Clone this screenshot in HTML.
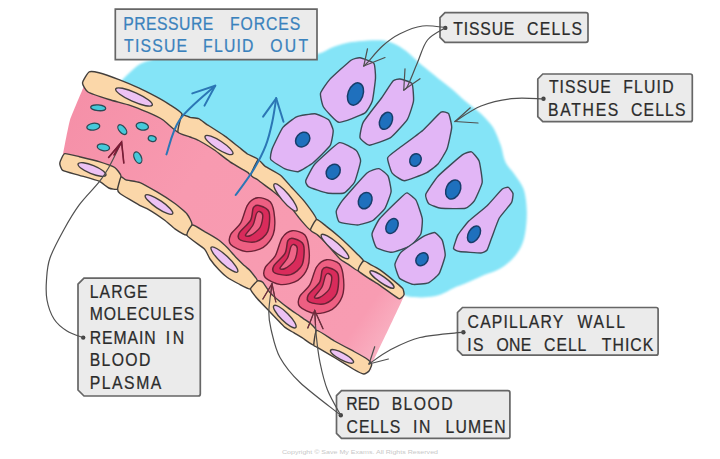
<!DOCTYPE html>
<html><head><meta charset="utf-8"><style>
html,body{margin:0;padding:0;background:#fff;}
svg{display:block;font-family:"Liberation Sans",sans-serif;}
</style></head><body>
<svg width="720" height="459" viewBox="0 0 720 459">
<rect width="720" height="459" fill="#fff"/>
<defs><filter id="sb" x="-5%" y="-5%" width="110%" height="110%"><feGaussianBlur stdDeviation="0.9"/></filter></defs>
<path d="M118.0,86.0 C117.0,84.3 120.2,82.3 122.2,80.0 C124.2,77.7 127.2,74.8 130.0,72.2 C132.8,69.6 135.9,66.4 139.2,64.4 C142.5,62.5 145.4,61.7 149.7,60.5 C154.0,59.3 153.3,57.8 165.0,57.0 C176.7,56.2 197.5,56.2 220.0,56.0 C242.5,55.8 283.6,56.4 300.0,56.0 C316.4,55.6 312.9,55.3 318.3,53.8 C323.8,52.3 328.1,49.0 332.7,47.2 C337.3,45.5 341.4,44.3 345.8,43.3 C350.2,42.3 353.1,41.8 358.8,41.3 C364.5,40.8 374.3,40.0 380.0,40.3 C385.7,40.6 388.6,41.5 393.0,43.3 C397.4,45.1 401.7,47.8 406.1,51.1 C410.5,54.4 414.8,59.2 419.2,62.9 C423.6,66.6 428.8,70.6 432.3,73.4 C435.8,76.2 436.6,77.0 440.0,79.8 C443.4,82.6 448.6,86.3 453.0,90.0 C457.4,93.7 461.7,98.1 466.1,101.8 C470.5,105.5 475.7,109.3 479.2,112.3 C482.7,115.3 484.5,117.2 487.0,120.0 C489.5,122.8 491.7,124.7 494.0,129.0 C496.3,133.3 499.1,140.5 501.0,146.0 C502.9,151.5 503.2,157.5 505.5,162.2 C507.8,166.9 511.6,169.8 514.6,174.4 C517.6,179.0 521.8,183.5 523.8,189.6 C525.8,195.7 526.5,203.9 526.8,211.0 C527.0,218.1 526.3,226.2 525.3,232.3 C524.3,238.4 523.0,243.0 520.7,247.6 C518.4,252.2 515.2,256.2 511.6,259.8 C508.1,263.4 504.0,266.4 499.4,268.9 C494.8,271.4 489.5,272.7 484.1,275.0 C478.7,277.3 471.9,280.6 466.9,282.7 C461.8,284.8 458.1,285.9 453.8,287.9 C449.5,289.8 445.2,292.9 440.8,294.4 C436.4,295.9 432.1,296.7 427.7,297.1 C423.3,297.6 418.8,297.6 414.6,297.1 C410.5,296.7 406.6,296.6 402.8,294.4 C399.0,292.2 398.8,289.1 392.0,284.0 C385.2,278.9 372.0,271.7 362.0,264.0 C352.0,256.3 342.0,248.0 332.0,238.0 C322.0,228.0 312.0,214.7 302.0,204.0 C292.0,193.3 283.7,183.5 272.0,174.0 C260.3,164.5 245.3,155.0 232.0,147.0 C218.7,139.0 205.3,133.7 192.0,126.0 C178.7,118.3 162.7,107.0 152.0,101.0 C141.3,95.0 133.7,92.5 128.0,90.0 C122.3,87.5 119.0,87.7 118.0,86.0Z" fill="#84e4f7" filter="url(#sb)"/>
<defs><linearGradient id="lg" x1="70" y1="110" x2="398" y2="335" gradientUnits="userSpaceOnUse"><stop offset="0" stop-color="#f590a8"/><stop offset="0.35" stop-color="#f89ab0"/><stop offset="0.9" stop-color="#f89cb2"/><stop offset="1" stop-color="#f9b4c4"/></linearGradient></defs>
<path d="M84.0,84.0 C85.7,84.5 105.9,92.5 109.0,93.5 C112.1,94.5 127.4,98.5 130.0,99.3 C132.6,100.1 145.2,105.2 147.4,106.2 C149.6,107.2 161.1,112.7 163.1,114.0 C165.1,115.3 176.2,124.9 178.0,126.0 C179.8,127.1 188.6,130.4 190.0,131.0 C191.4,131.6 197.1,133.6 198.7,134.5 C200.3,135.4 212.3,142.6 214.4,144.0 C216.5,145.4 227.8,154.3 230.0,155.8 C232.2,157.3 245.6,165.0 247.4,166.2 C249.2,167.4 255.9,172.5 257.6,173.8 C259.3,175.1 270.9,183.6 272.9,185.2 C274.9,186.8 286.4,196.1 288.2,198.0 C290.0,199.9 298.5,211.3 300.0,213.0 C301.5,214.7 308.8,222.5 310.5,224.0 C312.2,225.5 323.0,234.1 325.0,236.0 C327.0,237.9 337.8,251.1 340.0,253.0 C342.2,254.9 355.9,263.3 358.5,265.0 C361.1,266.7 376.5,277.1 379.2,278.9 C381.9,280.7 397.1,291.5 398.8,292.6 C400.5,293.7 405.8,291.2 404.0,296.0 C402.2,300.8 374.2,359.0 372.0,364.0 C369.8,369.0 372.0,370.4 371.7,370.5 C371.4,370.6 368.9,366.4 367.7,365.5 C366.5,364.6 356.2,358.7 354.0,357.5 C351.8,356.3 336.9,348.4 334.4,347.0 C331.9,345.6 318.0,337.4 316.0,336.0 C314.0,334.6 306.8,327.1 304.9,325.6 C303.0,324.1 289.7,315.2 287.4,313.4 C285.1,311.6 272.0,300.4 270.0,298.6 C268.0,296.8 258.7,288.4 257.4,286.9 C256.1,285.4 251.4,278.1 250.0,276.5 C248.6,274.9 238.2,265.4 236.1,263.4 C234.0,261.4 221.6,248.2 218.7,246.0 C215.8,243.8 194.1,231.7 192.0,230.0 C189.9,228.3 188.1,221.4 187.0,220.0 C185.9,218.6 176.9,211.0 174.9,209.5 C172.9,208.0 159.7,199.6 157.4,198.2 C155.1,196.8 142.4,189.7 140.0,188.6 C137.6,187.5 122.7,183.0 121.0,182.0 C119.3,181.0 116.2,174.5 114.7,173.5 C113.2,172.5 101.4,168.3 99.0,167.6 C96.6,166.9 81.7,163.2 79.4,162.7 C77.1,162.2 65.9,159.9 64.7,159.7 C63.5,159.5 61.6,162.6 62.0,160.0 C62.4,157.4 68.5,124.9 70.0,120.0 C71.5,115.1 83.1,88.4 84.0,86.0 C84.9,83.6 82.3,83.5 84.0,84.0Z" fill="url(#lg)"/>
<path d="M89.0,72.0 C90.4,71.1 96.5,72.1 99.0,72.7 C101.5,73.3 115.7,78.3 119.0,79.6 C122.3,80.9 135.6,86.4 138.7,87.8 C141.8,89.2 153.5,95.2 156.1,96.6 C158.7,98.0 167.8,103.3 170.0,104.8 C172.2,106.2 181.3,111.7 182.0,114.0 C182.7,116.3 179.6,131.5 178.0,132.0 C176.4,132.5 165.7,121.7 163.1,120.0 C160.5,118.3 150.2,113.4 147.4,112.2 C144.6,111.0 133.2,106.4 130.0,105.3 C126.8,104.2 112.5,100.6 109.0,99.5 C105.5,98.4 90.2,93.4 88.0,92.0 C85.8,90.6 82.4,84.7 82.5,83.0 C82.6,81.3 87.6,72.9 89.0,72.0Z" fill="#fbd7a9" stroke="#433f3c" stroke-width="1.4" stroke-linejoin="round"/>
<path d="M182.0,115.0 C183.0,113.8 188.6,117.1 190.0,117.4 C191.4,117.7 197.2,118.1 198.7,118.7 C200.1,119.3 205.2,123.3 207.4,124.8 C209.6,126.2 222.3,134.2 224.9,136.1 C227.5,137.9 236.8,145.5 238.7,147.0 C240.6,148.5 245.8,152.9 247.4,154.0 C249.0,155.1 257.7,157.8 258.0,159.6 C258.3,161.3 251.9,173.9 251.0,175.0 C250.1,176.1 249.2,173.3 247.4,172.2 C245.7,171.1 232.8,163.7 230.0,161.8 C227.2,160.0 217.0,151.8 214.4,150.0 C211.8,148.2 200.7,141.6 198.7,140.5 C196.7,139.4 191.7,137.7 190.0,137.0 C188.3,136.3 178.7,133.8 178.0,132.0 C177.3,130.2 181.0,116.2 182.0,115.0Z" fill="#fbd7a9" stroke="#433f3c" stroke-width="1.4" stroke-linejoin="round"/>
<path d="M258.0,160.0 C259.2,159.3 263.0,164.8 264.9,166.1 C266.8,167.4 278.3,173.4 280.5,175.2 C282.7,177.0 289.5,185.0 291.5,187.2 C293.5,189.4 302.5,198.9 304.6,201.6 C306.7,204.3 316.1,217.1 316.6,219.5 C317.1,221.9 311.9,230.0 310.5,230.0 C309.1,230.0 301.9,221.2 300.0,219.0 C298.1,216.8 290.5,206.3 288.2,204.0 C285.9,201.7 275.4,193.2 272.9,191.2 C270.3,189.2 259.4,181.2 257.6,179.8 C255.8,178.5 251.0,176.7 251.0,175.0 C251.0,173.3 256.8,160.7 258.0,160.0Z" fill="#fbd7a9" stroke="#433f3c" stroke-width="1.4" stroke-linejoin="round"/>
<path d="M316.6,219.5 C317.9,219.2 324.2,224.6 326.1,226.1 C328.1,227.6 337.4,235.2 340.0,237.5 C342.6,239.8 355.4,252.2 357.4,254.2 C359.4,256.2 363.4,259.7 363.5,261.1 C363.6,262.5 359.7,270.7 358.5,271.0 C357.3,271.3 350.2,265.6 348.7,264.6 C347.2,263.6 342.0,260.9 340.0,259.0 C338.0,257.1 326.9,244.0 325.0,242.0 C323.1,240.0 318.6,235.9 317.4,234.9 C316.2,233.9 310.6,231.3 310.5,230.0 C310.4,228.7 315.3,219.8 316.6,219.5Z" fill="#fbd7a9" stroke="#433f3c" stroke-width="1.4" stroke-linejoin="round"/>
<path d="M363.5,261.0 C364.5,260.5 369.1,263.9 370.5,264.6 C371.9,265.3 377.6,268.2 380.0,269.9 C382.4,271.6 396.9,283.3 398.8,284.9 C400.7,286.5 402.6,288.2 403.0,289.0 C403.4,289.8 404.4,293.9 404.0,294.7 C403.6,295.5 400.9,299.4 398.8,298.6 C396.7,297.8 382.6,287.2 379.2,284.9 C375.8,282.6 359.8,273.0 358.5,271.0 C357.2,269.0 362.5,261.5 363.5,261.0Z" fill="#fbd7a9" stroke="#433f3c" stroke-width="1.4" stroke-linejoin="round"/>
<path d="M64.7,153.7 C66.3,153.2 76.5,156.0 79.4,156.7 C82.3,157.4 96.1,160.7 99.0,161.6 C101.9,162.5 112.9,166.3 114.7,167.5 C116.5,168.7 120.8,174.2 121.0,176.0 C121.2,177.8 118.6,188.0 117.6,189.0 C116.6,190.0 110.3,188.7 108.8,188.0 C107.2,187.3 101.5,182.3 99.0,181.2 C96.5,180.1 82.4,176.2 79.4,175.3 C76.4,174.4 64.3,171.4 62.7,170.4 C61.1,169.4 59.6,164.4 59.8,163.0 C60.0,161.6 63.1,154.2 64.7,153.7Z" fill="#fbd7a9" stroke="#433f3c" stroke-width="1.4" stroke-linejoin="round"/>
<path d="M121.0,177.0 C121.7,176.2 124.3,179.3 125.9,179.8 C127.5,180.3 137.4,181.6 140.0,182.6 C142.6,183.6 154.5,190.5 157.4,192.2 C160.3,193.9 172.4,201.7 174.9,203.5 C177.4,205.3 185.6,212.3 187.0,214.0 C188.4,215.7 192.0,222.2 192.0,224.0 C192.0,225.8 188.1,234.6 186.7,235.0 C185.3,235.4 176.8,230.1 174.9,228.8 C173.0,227.6 166.6,221.6 164.4,220.0 C162.2,218.4 150.8,210.8 148.7,209.6 C146.6,208.4 142.0,206.6 139.6,205.3 C137.2,204.0 121.8,194.9 120.0,193.5 C118.2,192.1 117.5,190.4 117.6,189.0 C117.7,187.6 120.3,177.8 121.0,177.0Z" fill="#fbd7a9" stroke="#433f3c" stroke-width="1.4" stroke-linejoin="round"/>
<path d="M192.5,225.0 C194.0,224.7 202.4,230.3 204.6,231.6 C206.8,232.8 216.8,238.7 218.7,240.0 C220.6,241.3 226.0,246.4 227.4,247.8 C228.8,249.2 234.6,255.9 236.1,257.4 C237.6,258.9 243.7,265.0 244.9,266.1 C246.1,267.2 249.0,269.3 250.0,270.5 C251.0,271.7 257.4,279.4 257.4,280.9 C257.4,282.4 252.0,288.7 250.5,289.0 C249.0,289.3 241.8,285.5 239.9,284.5 C238.0,283.5 229.2,278.7 227.4,277.5 C225.6,276.3 220.1,271.1 218.7,269.6 C217.2,268.1 211.2,260.7 210.0,259.0 C208.8,257.3 206.5,251.2 204.6,249.2 C202.7,247.2 188.0,237.5 187.0,235.5 C186.0,233.5 191.0,225.3 192.5,225.0Z" fill="#fbd7a9" stroke="#433f3c" stroke-width="1.4" stroke-linejoin="round"/>
<path d="M257.4,281.0 C258.4,280.4 261.6,281.2 262.7,282.2 C263.8,283.2 268.7,291.1 270.0,292.6 C271.3,294.1 277.2,299.3 278.7,300.5 C280.1,301.7 285.9,306.3 287.4,307.4 C288.8,308.5 294.6,312.5 296.1,313.5 C297.6,314.5 303.7,318.8 304.9,319.6 C306.1,320.4 309.1,322.2 310.0,323.1 C310.9,324.0 315.7,328.2 316.0,330.0 C316.3,331.8 314.9,344.3 313.8,345.0 C312.7,345.7 304.1,338.9 302.4,337.9 C300.7,336.9 295.1,333.6 293.7,332.7 C292.2,331.8 286.2,328.4 285.0,327.4 C283.8,326.4 279.9,322.3 278.7,321.0 C277.4,319.7 271.8,313.9 270.0,312.0 C268.2,310.1 259.0,300.7 257.4,298.8 C255.8,296.9 250.5,290.5 250.5,289.0 C250.5,287.5 256.4,281.6 257.4,281.0Z" fill="#fbd7a9" stroke="#433f3c" stroke-width="1.4" stroke-linejoin="round"/>
<path d="M316.8,330.4 C318.5,330.1 331.3,339.2 334.4,341.0 C337.5,342.8 351.2,350.0 354.0,351.5 C356.8,353.0 366.2,358.4 367.7,359.5 C369.2,360.6 371.6,363.5 371.7,364.5 C371.8,365.5 369.7,370.2 369.0,371.0 C368.3,371.8 365.1,374.1 363.8,374.0 C362.6,373.9 356.4,370.9 354.0,369.5 C351.6,368.1 337.5,359.4 334.4,357.5 C331.3,355.6 318.5,348.1 316.8,347.1 C315.1,346.1 313.8,346.4 313.8,345.0 C313.8,343.6 315.1,330.7 316.8,330.4Z" fill="#fbd7a9" stroke="#433f3c" stroke-width="1.4" stroke-linejoin="round"/>
<ellipse cx="134" cy="97" rx="20" ry="4.6" transform="rotate(24 134 97)" fill="#edc2f4" stroke="#433f3c" stroke-width="1.4"/>
<ellipse cx="219" cy="145" rx="16.5" ry="4.2" transform="rotate(33 219 145)" fill="#edc2f4" stroke="#433f3c" stroke-width="1.4"/>
<ellipse cx="285.5" cy="197.4" rx="17.5" ry="4.2" transform="rotate(50 285.5 197.4)" fill="#edc2f4" stroke="#433f3c" stroke-width="1.4"/>
<ellipse cx="335" cy="246.5" rx="18" ry="4.2" transform="rotate(41 335 246.5)" fill="#edc2f4" stroke="#433f3c" stroke-width="1.4"/>
<ellipse cx="382" cy="279.5" rx="14.5" ry="3.2" transform="rotate(35 382 279.5)" fill="#edc2f4" stroke="#433f3c" stroke-width="1.4"/>
<ellipse cx="92" cy="169.5" rx="15" ry="4.2" transform="rotate(22 92 169.5)" fill="#edc2f4" stroke="#433f3c" stroke-width="1.4"/>
<ellipse cx="159" cy="204.5" rx="16.5" ry="4" transform="rotate(34 159 204.5)" fill="#edc2f4" stroke="#433f3c" stroke-width="1.4"/>
<ellipse cx="224.4" cy="259.6" rx="18" ry="4.2" transform="rotate(43 224.4 259.6)" fill="#edc2f4" stroke="#433f3c" stroke-width="1.4"/>
<ellipse cx="284.8" cy="316.6" rx="15.5" ry="4.2" transform="rotate(45 284.8 316.6)" fill="#edc2f4" stroke="#433f3c" stroke-width="1.4"/>
<ellipse cx="342" cy="356.4" rx="13" ry="3.5" transform="rotate(28 342 356.4)" fill="#edc2f4" stroke="#433f3c" stroke-width="1.4"/>
<ellipse cx="98.2" cy="107.8" rx="7.5" ry="2.9" transform="rotate(5 98.2 107.8)" fill="#45c9da" stroke="#2a4a55" stroke-width="1.3"/>
<ellipse cx="93.3" cy="126.7" rx="6.5" ry="3.4" transform="rotate(-8 93.3 126.7)" fill="#45c9da" stroke="#2a4a55" stroke-width="1.3"/>
<ellipse cx="122.3" cy="129.6" rx="5.8" ry="3.2" transform="rotate(50 122.3 129.6)" fill="#45c9da" stroke="#2a4a55" stroke-width="1.3"/>
<ellipse cx="142.3" cy="126.3" rx="6.2" ry="3.8" transform="rotate(10 142.3 126.3)" fill="#45c9da" stroke="#2a4a55" stroke-width="1.3"/>
<ellipse cx="152.2" cy="138.6" rx="4" ry="2.8" transform="rotate(15 152.2 138.6)" fill="#45c9da" stroke="#2a4a55" stroke-width="1.3"/>
<ellipse cx="103.4" cy="147.3" rx="6.2" ry="3.3" transform="rotate(10 103.4 147.3)" fill="#45c9da" stroke="#2a4a55" stroke-width="1.3"/>
<ellipse cx="137.8" cy="157.6" rx="6" ry="3.5" transform="rotate(65 137.8 157.6)" fill="#45c9da" stroke="#2a4a55" stroke-width="1.3"/>
<g transform="translate(0 0)"><path d="M257.6,197.7 C261.0,197.3 267.8,199.0 270.4,202.0 C272.9,205.0 274.2,212.6 274.6,217.5 C275.0,222.4 274.9,230.1 273.2,234.6 C271.5,239.1 267.3,244.8 263.3,247.3 C259.3,249.9 251.2,252.0 246.3,251.6 C241.4,251.2 233.0,247.1 230.7,244.5 C228.4,241.9 229.2,237.8 230.7,234.6 C232.2,231.4 238.0,227.7 240.6,223.2 C243.2,218.7 245.1,208.6 247.7,204.8 C250.2,201.0 254.2,198.1 257.6,197.7Z" fill="#ee5f82" stroke="#6a2236" stroke-width="1.4"/><path d="M259.0,205.5 C261.3,206.1 267.7,208.0 269.0,211.9 C270.3,215.8 269.5,227.2 267.6,231.7 C265.7,236.2 260.2,240.3 256.2,241.6 C252.1,242.9 243.2,241.5 240.6,240.2 C238.0,238.9 237.7,236.1 239.2,233.1 C240.7,230.1 248.4,224.2 250.5,220.4 C252.6,216.6 252.1,209.8 253.4,207.6 C254.7,205.4 256.7,204.9 259.0,205.5Z" fill="#d92b5b" stroke="#6a2236" stroke-width="1.5"/><path d="M259.5,211.5 C260.4,211.8 262.7,213.1 262.8,215.5 C262.9,217.9 261.8,224.5 260.0,227.5 C258.2,230.5 252.7,234.4 250.5,235.5 C248.3,236.6 245.1,236.6 245.5,235.0 C245.9,233.4 251.3,228.2 253.0,225.0 C254.7,221.8 255.5,215.5 256.5,213.5 C257.5,211.5 258.6,211.2 259.5,211.5Z" fill="#ee6487" stroke="#6a2236" stroke-width="1.4"/></g>
<g transform="translate(34.5 33)"><path d="M257.6,197.7 C261.0,197.3 267.8,199.0 270.4,202.0 C272.9,205.0 274.2,212.6 274.6,217.5 C275.0,222.4 274.9,230.1 273.2,234.6 C271.5,239.1 267.3,244.8 263.3,247.3 C259.3,249.9 251.2,252.0 246.3,251.6 C241.4,251.2 233.0,247.1 230.7,244.5 C228.4,241.9 229.2,237.8 230.7,234.6 C232.2,231.4 238.0,227.7 240.6,223.2 C243.2,218.7 245.1,208.6 247.7,204.8 C250.2,201.0 254.2,198.1 257.6,197.7Z" fill="#ee5f82" stroke="#6a2236" stroke-width="1.4"/><path d="M259.0,205.5 C261.3,206.1 267.7,208.0 269.0,211.9 C270.3,215.8 269.5,227.2 267.6,231.7 C265.7,236.2 260.2,240.3 256.2,241.6 C252.1,242.9 243.2,241.5 240.6,240.2 C238.0,238.9 237.7,236.1 239.2,233.1 C240.7,230.1 248.4,224.2 250.5,220.4 C252.6,216.6 252.1,209.8 253.4,207.6 C254.7,205.4 256.7,204.9 259.0,205.5Z" fill="#d92b5b" stroke="#6a2236" stroke-width="1.5"/><path d="M259.5,211.5 C260.4,211.8 262.7,213.1 262.8,215.5 C262.9,217.9 261.8,224.5 260.0,227.5 C258.2,230.5 252.7,234.4 250.5,235.5 C248.3,236.6 245.1,236.6 245.5,235.0 C245.9,233.4 251.3,228.2 253.0,225.0 C254.7,221.8 255.5,215.5 256.5,213.5 C257.5,211.5 258.6,211.2 259.5,211.5Z" fill="#ee6487" stroke="#6a2236" stroke-width="1.4"/></g>
<g transform="translate(69 62)"><path d="M257.6,197.7 C261.0,197.3 267.8,199.0 270.4,202.0 C272.9,205.0 274.2,212.6 274.6,217.5 C275.0,222.4 274.9,230.1 273.2,234.6 C271.5,239.1 267.3,244.8 263.3,247.3 C259.3,249.9 251.2,252.0 246.3,251.6 C241.4,251.2 233.0,247.1 230.7,244.5 C228.4,241.9 229.2,237.8 230.7,234.6 C232.2,231.4 238.0,227.7 240.6,223.2 C243.2,218.7 245.1,208.6 247.7,204.8 C250.2,201.0 254.2,198.1 257.6,197.7Z" fill="#ee5f82" stroke="#6a2236" stroke-width="1.4"/><path d="M259.0,205.5 C261.3,206.1 267.7,208.0 269.0,211.9 C270.3,215.8 269.5,227.2 267.6,231.7 C265.7,236.2 260.2,240.3 256.2,241.6 C252.1,242.9 243.2,241.5 240.6,240.2 C238.0,238.9 237.7,236.1 239.2,233.1 C240.7,230.1 248.4,224.2 250.5,220.4 C252.6,216.6 252.1,209.8 253.4,207.6 C254.7,205.4 256.7,204.9 259.0,205.5Z" fill="#d92b5b" stroke="#6a2236" stroke-width="1.5"/><path d="M259.5,211.5 C260.4,211.8 262.7,213.1 262.8,215.5 C262.9,217.9 261.8,224.5 260.0,227.5 C258.2,230.5 252.7,234.4 250.5,235.5 C248.3,236.6 245.1,236.6 245.5,235.0 C245.9,233.4 251.3,228.2 253.0,225.0 C254.7,221.8 255.5,215.5 256.5,213.5 C257.5,211.5 258.6,211.2 259.5,211.5Z" fill="#ee6487" stroke="#6a2236" stroke-width="1.4"/></g>
<path d="M360.0,57.8 C361.7,58.0 372.8,61.9 373.9,63.4 C375.0,64.9 375.6,75.2 375.5,78.0 C375.4,80.8 373.1,98.4 372.3,101.0 C371.5,103.6 367.2,111.6 364.7,113.2 C362.2,114.8 341.8,122.8 338.8,122.3 C335.8,121.8 324.8,109.1 323.5,107.0 C322.2,104.9 320.1,95.4 320.5,93.4 C320.9,91.4 327.4,82.0 329.6,79.6 C331.8,77.2 348.8,61.8 351.0,60.2 C353.2,58.6 358.3,57.6 360.0,57.8Z" fill="#e2b6f6" stroke="#3b4a55" stroke-width="1.4"/>
<ellipse cx="355.5" cy="94" rx="7.5" ry="11.5" transform="rotate(20 355.5 94)" fill="#1f70bd" stroke="#173d6a" stroke-width="1.5"/>
<path d="M400.0,79.0 C401.4,79.2 411.0,81.9 412.0,83.5 C413.0,85.1 413.8,98.4 413.5,101.0 C413.2,103.6 409.1,116.6 407.4,119.3 C405.7,122.0 393.4,135.7 390.6,137.6 C387.8,139.5 371.5,145.2 369.3,145.2 C367.1,145.2 360.4,139.3 360.0,137.6 C359.6,135.9 361.6,125.2 363.2,122.3 C364.8,119.4 379.3,101.0 381.5,98.0 C383.7,95.0 391.6,82.4 393.0,81.0 C394.4,79.6 398.6,78.8 400.0,79.0Z" fill="#e2b6f6" stroke="#3b4a55" stroke-width="1.4"/>
<ellipse cx="386" cy="120.8" rx="6" ry="9" transform="rotate(25 386 120.8)" fill="#1f70bd" stroke="#173d6a" stroke-width="1.5"/>
<path d="M272.2,148.8 C273.1,146.4 281.1,129.7 282.9,127.4 C284.7,125.1 294.3,117.8 296.6,116.8 C298.9,115.8 312.6,113.5 314.9,113.7 C317.2,113.9 327.3,118.6 328.6,119.8 C329.9,121.0 333.1,128.6 333.2,130.5 C333.3,132.4 331.6,143.4 330.1,145.7 C328.6,148.0 315.7,160.6 313.4,162.5 C311.1,164.4 300.2,171.3 298.1,171.7 C296.0,172.1 286.4,169.5 284.4,168.6 C282.4,167.7 271.6,161.0 270.7,159.5 C269.8,158.0 271.3,151.2 272.2,148.8Z" fill="#e2b6f6" stroke="#3b4a55" stroke-width="1.4"/>
<ellipse cx="302.7" cy="139.6" rx="6.5" ry="8" transform="rotate(40 302.7 139.6)" fill="#1f70bd" stroke="#173d6a" stroke-width="1.5"/>
<path d="M305.7,180.8 C306.1,179.1 312.4,166.8 314.9,164.0 C317.4,161.2 336.3,143.7 339.3,142.7 C342.3,141.7 354.4,149.0 356.0,150.3 C357.6,151.6 360.7,158.7 360.6,161.0 C360.5,163.3 355.7,180.0 354.5,182.3 C353.3,184.6 345.9,192.2 343.9,193.0 C341.9,193.8 329.7,193.4 327.1,193.0 C324.5,192.6 310.4,187.8 308.8,186.9 C307.2,186.0 305.3,182.5 305.7,180.8Z" fill="#e2b6f6" stroke="#3b4a55" stroke-width="1.4"/>
<ellipse cx="333.2" cy="171.7" rx="6.5" ry="8" transform="rotate(35 333.2 171.7)" fill="#1f70bd" stroke="#173d6a" stroke-width="1.5"/>
<path d="M336.2,211.3 C336.4,209.7 340.1,203.4 342.3,200.6 C344.5,197.8 364.0,175.5 366.7,173.2 C369.4,170.9 377.3,168.4 378.9,168.6 C380.5,168.8 387.2,174.5 388.1,176.2 C389.0,177.9 391.3,189.1 391.1,191.5 C390.9,193.9 386.3,206.2 385.0,208.3 C383.7,210.4 374.8,219.3 372.8,220.5 C370.8,221.7 360.1,224.9 357.6,225.0 C355.1,225.1 340.9,223.0 339.3,222.0 C337.7,221.0 336.0,212.9 336.2,211.3Z" fill="#e2b6f6" stroke="#3b4a55" stroke-width="1.4"/>
<ellipse cx="365.2" cy="200.6" rx="6.5" ry="8.5" transform="rotate(25 365.2 200.6)" fill="#1f70bd" stroke="#173d6a" stroke-width="1.5"/>
<path d="M387.6,157.9 C388.0,156.1 395.7,150.8 398.3,148.8 C400.9,146.8 419.6,133.2 422.7,130.5 C425.8,127.8 439.1,113.4 441.0,112.2 C442.9,111.0 447.8,112.6 448.6,113.7 C449.4,114.8 451.8,124.8 451.7,127.4 C451.6,130.0 448.1,146.1 447.1,148.8 C446.1,151.5 439.6,162.2 438.0,164.0 C436.4,165.8 428.2,172.0 425.7,173.2 C423.2,174.4 406.9,180.8 404.4,180.8 C401.9,180.8 393.4,174.9 392.2,173.2 C391.0,171.5 387.2,159.7 387.6,157.9Z" fill="#e2b6f6" stroke="#3b4a55" stroke-width="1.4"/>
<ellipse cx="415.5" cy="160" rx="5.5" ry="6.5" transform="rotate(30 415.5 160)" fill="#1f70bd" stroke="#173d6a" stroke-width="1.5"/>
<path d="M425.7,194.5 C426.4,192.5 435.3,179.1 438.0,176.2 C440.7,173.3 459.8,156.7 462.3,154.9 C464.8,153.1 470.3,151.4 471.5,151.8 C472.7,152.2 478.3,158.8 479.1,161.0 C479.9,163.2 482.5,179.4 482.2,182.3 C481.9,185.2 475.7,198.7 474.5,200.6 C473.3,202.5 467.9,207.7 465.4,208.3 C462.9,208.9 443.7,208.6 441.0,208.3 C438.3,208.0 429.9,204.7 428.8,203.7 C427.7,202.7 425.0,196.5 425.7,194.5Z" fill="#e2b6f6" stroke="#3b4a55" stroke-width="1.4"/>
<ellipse cx="453.2" cy="189.5" rx="7" ry="10" transform="rotate(25 453.2 189.5)" fill="#1f70bd" stroke="#173d6a" stroke-width="1.5"/>
<path d="M453.5,248.4 C453.4,247.2 457.0,236.7 458.1,234.7 C459.2,232.7 466.7,223.1 468.8,221.0 C470.9,218.9 484.6,208.0 487.1,205.7 C489.6,203.4 500.7,190.3 502.3,189.0 C503.9,187.7 507.6,187.1 508.4,187.4 C509.2,187.7 512.8,192.4 513.0,193.5 C513.2,194.6 512.5,200.9 511.5,202.7 C510.5,204.5 500.8,215.4 499.3,218.0 C497.8,220.6 492.6,235.5 491.7,237.8 C490.8,240.1 487.9,248.9 487.1,250.0 C486.3,251.1 483.0,252.9 481.0,253.0 C479.0,253.1 461.6,251.8 459.6,251.5 C457.6,251.2 453.6,249.6 453.5,248.4Z" fill="#e2b6f6" stroke="#3b4a55" stroke-width="1.4"/>
<ellipse cx="474" cy="234.2" rx="5.5" ry="9" transform="rotate(30 474 234.2)" fill="#1f70bd" stroke="#173d6a" stroke-width="1.5"/>
<path d="M372.0,234.0 C372.2,231.9 377.5,221.5 379.6,218.8 C381.7,216.1 399.0,199.3 401.0,197.4 C403.0,195.5 406.0,192.7 407.1,192.9 C408.2,193.1 415.1,198.6 416.2,200.5 C417.3,202.4 422.0,216.3 422.3,218.8 C422.6,221.3 421.7,232.0 420.8,234.0 C419.9,236.0 412.2,244.9 410.1,246.2 C408.0,247.5 394.3,252.2 391.8,252.3 C389.3,252.4 378.1,249.1 376.6,247.8 C375.1,246.5 371.8,236.1 372.0,234.0Z" fill="#e2b6f6" stroke="#3b4a55" stroke-width="1.4"/>
<ellipse cx="392" cy="226" rx="5.5" ry="8" transform="rotate(30 392 226)" fill="#1f70bd" stroke="#173d6a" stroke-width="1.5"/>
<path d="M394.9,264.5 C395.0,262.6 399.0,254.3 401.0,252.3 C403.0,250.3 419.8,238.6 422.3,237.1 C424.8,235.6 433.0,232.3 434.5,232.5 C436.0,232.7 441.4,238.4 442.2,240.1 C443.0,241.8 445.4,252.9 445.2,255.4 C445.0,257.9 440.3,271.7 439.1,273.7 C437.9,275.7 430.3,282.0 428.4,282.8 C426.5,283.6 415.3,284.7 413.2,284.4 C411.1,284.1 400.8,279.8 399.5,278.3 C398.2,276.8 394.8,266.4 394.9,264.5Z" fill="#e2b6f6" stroke="#3b4a55" stroke-width="1.4"/>
<ellipse cx="422" cy="259.3" rx="5.5" ry="7" transform="rotate(40 422 259.3)" fill="#1f70bd" stroke="#173d6a" stroke-width="1.5"/>
<path d="M115.3,9.2 H317 V59.6 H115.3 Z" fill="#ebebeb" stroke="#666666" stroke-width="1.7"/>
<path d="M445,12.6 H586 Q588,12.6 588,14.6 V40.3 Q588,42.3 586,42.3 H445 L440,37.3 V17.6 Z" fill="#ebebeb" stroke="#666666" stroke-width="1.7"/>
<path d="M542.8,74 H690.3 Q692.3,74 692.3,76 V119.7 Q692.3,121.7 690.3,121.7 H542.8 L537.8,116.7 V79 Z" fill="#ebebeb" stroke="#666666" stroke-width="1.7"/>
<path d="M84,278.2 H198.3 Q200.3,278.2 200.3,280.2 V394 Q200.3,396 198.3,396 H84 L78,390 V284.2 Z" fill="#ebebeb" stroke="#666666" stroke-width="1.7"/>
<path d="M341.5,390.7 H507.9 Q509.9,390.7 509.9,392.7 V436.4 Q509.9,438.4 507.9,438.4 H341.5 L336.5,433.4 V395.7 Z" fill="#ebebeb" stroke="#666666" stroke-width="1.7"/>
<path d="M462.5,307.5 H656.1 Q658.1,307.5 658.1,309.5 V353.2 Q658.1,355.2 656.1,355.2 H462.5 L457.5,350.2 V312.5 Z" fill="#ebebeb" stroke="#666666" stroke-width="1.7"/>
<circle cx="445.3" cy="27.9" r="2.2" fill="#444"/>
<circle cx="543.5" cy="98.8" r="2.2" fill="#444"/>
<circle cx="83.2" cy="337.6" r="2.2" fill="#444"/>
<circle cx="340.8" cy="415.3" r="2.2" fill="#444"/>
<circle cx="463.4" cy="332.2" r="2.2" fill="#444"/>
<path d="M445.0,27.5 C441.2,27.2 430.0,25.0 422.5,26.0 C415.0,27.0 406.7,30.4 400.0,33.8 C393.3,37.1 387.9,41.2 382.5,46.0 C377.1,50.8 370.6,59.2 367.5,62.5 C364.4,65.8 364.4,65.4 363.8,66.0" fill="none" stroke="#505050" stroke-width="1.2" stroke-linecap="round"/>
<line x1="363.75" y1="66" x2="367.5" y2="48.75" stroke="#505050" stroke-width="1.2" stroke-linecap="round"/>
<line x1="363.75" y1="66" x2="385" y2="57.5" stroke="#505050" stroke-width="1.2" stroke-linecap="round"/>
<path d="M445.0,28.0 C442.1,30.0 432.1,34.2 427.5,40.0 C422.9,45.8 420.8,54.8 417.5,62.5 C414.2,70.2 409.8,81.7 407.5,86.2 C405.2,90.8 404.4,89.4 403.8,90.0" fill="none" stroke="#505050" stroke-width="1.2" stroke-linecap="round"/>
<line x1="403.75" y1="90" x2="405" y2="68.75" stroke="#505050" stroke-width="1.2" stroke-linecap="round"/>
<line x1="403.75" y1="90" x2="420" y2="78.75" stroke="#505050" stroke-width="1.2" stroke-linecap="round"/>
<path d="M543.5,98.8 C538.2,98.8 521.9,97.4 511.5,98.6 C501.1,99.8 490.4,102.2 481.0,106.0 C471.6,109.8 459.3,118.9 455.0,121.5" fill="none" stroke="#505050" stroke-width="1.2" stroke-linecap="round"/>
<line x1="455" y1="121.5" x2="470.3" y2="107.8" stroke="#505050" stroke-width="1.2" stroke-linecap="round"/>
<line x1="455" y1="121.5" x2="478" y2="123" stroke="#505050" stroke-width="1.2" stroke-linecap="round"/>
<path d="M83.2,337.6 C80.5,336.5 71.9,334.1 67.0,331.0 C62.1,327.9 57.3,324.2 54.0,319.0 C50.7,313.8 48.2,306.5 47.0,300.0 C45.8,293.5 46.0,287.0 46.5,280.0 C47.0,273.0 47.1,266.3 50.0,258.0 C52.9,249.7 58.8,238.9 63.7,230.0 C68.6,221.1 73.5,212.7 79.4,204.7 C85.3,196.7 94.1,188.4 99.0,182.2 C103.9,176.0 105.0,174.2 108.8,167.5 C112.6,160.8 119.5,146.2 121.6,142.0" fill="none" stroke="#505050" stroke-width="1.2" stroke-linecap="round"/>
<line x1="121.6" y1="142" x2="108.6" y2="157.4" stroke="#505050" stroke-width="1.2" stroke-linecap="round"/>
<line x1="121.6" y1="142" x2="123.8" y2="163" stroke="#505050" stroke-width="1.2" stroke-linecap="round"/>
<path d="M114,155 L121.6,142 M108.6,157.4 L121.6,142 L123.8,163" fill="none" stroke="#7d1a35" stroke-width="1.6" stroke-linecap="round"/>
<path d="M340.8,415.3 C334.0,409.8 310.1,392.1 300.0,382.5 C289.9,372.9 284.8,366.2 280.0,357.5 C275.2,348.8 273.1,337.6 271.2,330.0 C269.4,322.4 268.7,319.7 268.8,312.0 C268.9,304.3 271.5,288.4 272.0,283.7" fill="none" stroke="#505050" stroke-width="1.2" stroke-linecap="round"/>
<line x1="272" y1="283.7" x2="262.9" y2="299" stroke="#505050" stroke-width="1.2" stroke-linecap="round"/>
<line x1="272" y1="283.7" x2="275.8" y2="302" stroke="#505050" stroke-width="1.2" stroke-linecap="round"/>
<path d="M340.8,415.3 C338.6,411.1 331.0,398.8 327.5,390.0 C324.0,381.2 321.9,371.7 320.0,362.5 C318.1,353.3 317.1,343.7 316.2,335.0 C315.4,326.3 315.0,314.5 314.7,310.4" fill="none" stroke="#505050" stroke-width="1.2" stroke-linecap="round"/>
<line x1="314.7" y1="310.4" x2="307.8" y2="328" stroke="#505050" stroke-width="1.2" stroke-linecap="round"/>
<line x1="314.7" y1="310.4" x2="323" y2="328.7" stroke="#505050" stroke-width="1.2" stroke-linecap="round"/>
<path d="M262.9,299 L272,283.7 L275.8,302 M270.5,296 L272,283.7 M307.8,328 L314.7,310.4 L323,328.7 M315.5,325 L314.7,310.4" fill="none" stroke="#74283a" stroke-width="1.15" stroke-linecap="round"/>
<path d="M463.4,332.2 C456.2,333.1 432.2,334.5 420.0,337.5 C407.8,340.5 398.5,345.6 390.0,350.0 C381.5,354.4 372.5,361.7 369.0,364.0" fill="none" stroke="#505050" stroke-width="1.2" stroke-linecap="round"/>
<line x1="369" y1="364" x2="374.7" y2="346.7" stroke="#505050" stroke-width="1.2" stroke-linecap="round"/>
<line x1="369" y1="364" x2="388.4" y2="359" stroke="#505050" stroke-width="1.2" stroke-linecap="round"/>
<path d="M166.4,154.4 C168.7,148.6 171.9,130.8 180.0,119.3 C188.1,107.8 209.3,91.3 215.2,85.7" fill="none" stroke="#2b76b5" stroke-width="2.0" stroke-linecap="round"/>
<line x1="215.2" y1="85.7" x2="192.3" y2="93.4" stroke="#2b76b5" stroke-width="2.0" stroke-linecap="round"/>
<line x1="215.2" y1="85.7" x2="204.5" y2="105.6" stroke="#2b76b5" stroke-width="2.0" stroke-linecap="round"/>
<path d="M235.7,195.0 C238.8,190.7 249.0,177.2 254.0,168.9 C259.0,160.6 262.8,153.2 265.8,145.4 C268.9,137.6 270.6,129.7 272.3,121.8 C274.0,113.9 275.6,102.2 276.2,98.3" fill="none" stroke="#2b76b5" stroke-width="2.0" stroke-linecap="round"/>
<line x1="276.2" y1="98.3" x2="263.1" y2="116.6" stroke="#2b76b5" stroke-width="2.0" stroke-linecap="round"/>
<line x1="276.2" y1="98.3" x2="283.5" y2="121.8" stroke="#2b76b5" stroke-width="2.0" stroke-linecap="round"/>
<text transform="translate(124.50 29.75) scale(0.9 1)" x="-1.50" y="0" letter-spacing="0.571" fill="#3a82bd" stroke="#3a82bd" stroke-width="0.25" font-size="17.5">PRESSURE</text>
<text transform="translate(231.40 29.75) scale(0.9 1)" x="-1.50" y="0" letter-spacing="1.011" fill="#3a82bd" stroke="#3a82bd" stroke-width="0.25" font-size="17.5">FORCES</text>
<text transform="translate(124.50 52.4) scale(0.9 1)" x="-0.50" y="0" letter-spacing="1.356" fill="#3a82bd" stroke="#3a82bd" stroke-width="0.25" font-size="17.5">TISSUE</text>
<text transform="translate(204.40 52.4) scale(0.9 1)" x="-1.50" y="0" letter-spacing="1.382" fill="#3a82bd" stroke="#3a82bd" stroke-width="0.25" font-size="17.5">FLUID</text>
<text transform="translate(270.80 52.4) scale(0.9 1)" x="-0.75" y="0" letter-spacing="2.681" fill="#3a82bd" stroke="#3a82bd" stroke-width="0.25" font-size="17.5">OUT</text>
<text transform="translate(453.60 34.5) scale(0.9 1)" x="-0.50" y="0" letter-spacing="0.978" fill="#2b2b2b" stroke="#2b2b2b" stroke-width="0.25" font-size="17.5">TISSUE</text>
<text transform="translate(528.00 34.5) scale(0.9 1)" x="-1.00" y="0" letter-spacing="1.375" fill="#2b2b2b" stroke="#2b2b2b" stroke-width="0.25" font-size="17.5">CELLS</text>
<text transform="translate(549.40 93.3) scale(0.9 1)" x="-0.50" y="0" letter-spacing="1.133" fill="#2b2b2b" stroke="#2b2b2b" stroke-width="0.25" font-size="17.5">TISSUE</text>
<text transform="translate(624.50 93.3) scale(0.9 1)" x="-1.50" y="0" letter-spacing="1.382" fill="#2b2b2b" stroke="#2b2b2b" stroke-width="0.25" font-size="17.5">FLUID</text>
<text transform="translate(549.40 115.8) scale(0.9 1)" x="-1.50" y="0" letter-spacing="1.900" fill="#2b2b2b" stroke="#2b2b2b" stroke-width="0.25" font-size="17.5">BATHES</text>
<text transform="translate(632.00 115.8) scale(0.9 1)" x="-1.00" y="0" letter-spacing="1.264" fill="#2b2b2b" stroke="#2b2b2b" stroke-width="0.25" font-size="17.5">CELLS</text>
<text transform="translate(91.00 297.6) scale(0.9 1)" x="-1.50" y="0" letter-spacing="1.250" fill="#2b2b2b" stroke="#2b2b2b" stroke-width="0.25" font-size="17.5">LARGE</text>
<text transform="translate(91.00 320.2) scale(0.9 1)" x="-1.50" y="0" letter-spacing="1.049" fill="#2b2b2b" stroke="#2b2b2b" stroke-width="0.25" font-size="17.5">MOLECULES</text>
<text transform="translate(91.00 343.5) scale(0.9 1)" x="-1.50" y="0" letter-spacing="1.083" fill="#2b2b2b" stroke="#2b2b2b" stroke-width="0.25" font-size="17.5">REMAIN</text>
<text transform="translate(167.20 343.5) scale(0.9 1)" x="-1.50" y="0" letter-spacing="2.833" fill="#2b2b2b" stroke="#2b2b2b" stroke-width="0.25" font-size="17.5">IN</text>
<text transform="translate(91.00 366.2) scale(0.9 1)" x="-1.50" y="0" letter-spacing="1.556" fill="#2b2b2b" stroke="#2b2b2b" stroke-width="0.25" font-size="17.5">BLOOD</text>
<text transform="translate(91.00 389.2) scale(0.9 1)" x="-1.50" y="0" letter-spacing="1.744" fill="#2b2b2b" stroke="#2b2b2b" stroke-width="0.25" font-size="17.5">PLASMA</text>
<text transform="translate(347.50 410.2) scale(0.9 1)" x="-1.50" y="0" letter-spacing="0.139" fill="#2b2b2b" stroke="#2b2b2b" stroke-width="0.25" font-size="17.5">RED</text>
<text transform="translate(393.00 410.2) scale(0.9 1)" x="-1.50" y="0" letter-spacing="1.639" fill="#2b2b2b" stroke="#2b2b2b" stroke-width="0.25" font-size="17.5">BLOOD</text>
<text transform="translate(347.50 433.3) scale(0.9 1)" x="-1.00" y="0" letter-spacing="1.042" fill="#2b2b2b" stroke="#2b2b2b" stroke-width="0.25" font-size="17.5">CELLS</text>
<text transform="translate(414.30 433.3) scale(0.9 1)" x="-1.50" y="0" letter-spacing="1.833" fill="#2b2b2b" stroke="#2b2b2b" stroke-width="0.25" font-size="17.5">IN</text>
<text transform="translate(446.90 433.3) scale(0.9 1)" x="-1.50" y="0" letter-spacing="1.354" fill="#2b2b2b" stroke="#2b2b2b" stroke-width="0.25" font-size="17.5">LUMEN</text>
<text transform="translate(468.50 327.5) scale(0.9 1)" x="-1.00" y="0" letter-spacing="1.299" fill="#2b2b2b" stroke="#2b2b2b" stroke-width="0.25" font-size="17.5">CAPILLARY</text>
<text transform="translate(577.80 327.5) scale(0.9 1)" x="-0.25" y="0" letter-spacing="1.954" fill="#2b2b2b" stroke="#2b2b2b" stroke-width="0.25" font-size="17.5">WALL</text>
<text transform="translate(468.50 350.8) scale(0.9 1)" x="-1.50" y="0" letter-spacing="1.639" fill="#2b2b2b" stroke="#2b2b2b" stroke-width="0.25" font-size="17.5">IS</text>
<text transform="translate(497.20 350.8) scale(0.9 1)" x="-0.75" y="0" letter-spacing="0.306" fill="#2b2b2b" stroke="#2b2b2b" stroke-width="0.25" font-size="17.5">ONE</text>
<text transform="translate(545.00 350.8) scale(0.9 1)" x="-1.00" y="0" letter-spacing="1.065" fill="#2b2b2b" stroke="#2b2b2b" stroke-width="0.25" font-size="17.5">CELL</text>
<text transform="translate(602.30 350.8) scale(0.9 1)" x="-0.50" y="0" letter-spacing="1.146" fill="#2b2b2b" stroke="#2b2b2b" stroke-width="0.25" font-size="17.5">THICK</text>
<text x="282" y="454" font-size="6" fill="#c8c8c8" textLength="156" lengthAdjust="spacingAndGlyphs">Copyright © Save My Exams. All Rights Reserved</text>
</svg></body></html>
